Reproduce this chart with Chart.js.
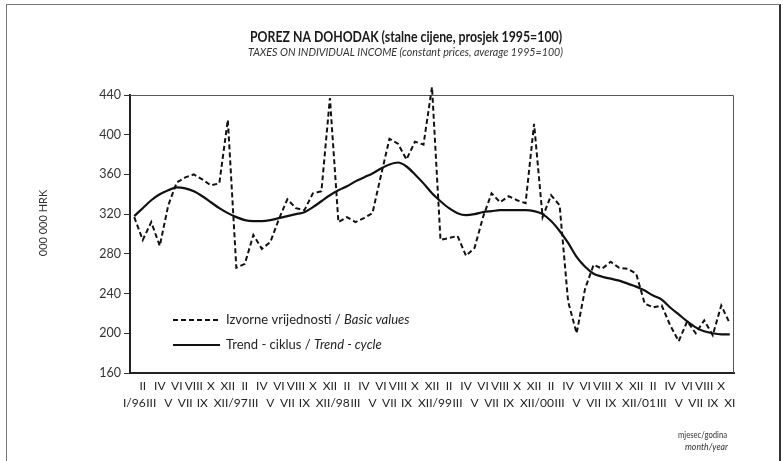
<!DOCTYPE html>
<html><head><meta charset="utf-8">
<script src="https://cdn.jsdelivr.net/npm/chart.js@4/dist/chart.umd.min.js"></script>
<style>
html,body{margin:0;padding:0;background:#fff;}
#wrap{position:relative;width:783px;height:461px;overflow:hidden;background:#fff;}
#frame{position:absolute;left:6px;top:4px;width:775px;height:480px;border:1px solid #777;border-right:2px solid #333;box-sizing:border-box;pointer-events:none;}
canvas{position:absolute;left:0;top:0;}
</style></head><body>
<div id="wrap"><canvas id="c" width="783" height="461"></canvas><div id="frame"></div></div>
<script>
const categories = [
 'I/96','II','III','IV','V','VI','VII','VIII','IX','X','XI','XII',
 'I/97','II','III','IV','V','VI','VII','VIII','IX','X','XI','XII',
 'I/98','II','III','IV','V','VI','VII','VIII','IX','X','XI','XII',
 'I/99','II','III','IV','V','VI','VII','VIII','IX','X','XI','XII',
 'I/00','II','III','IV','V','VI','VII','VIII','IX','X','XI','XII',
 'I/01','II','III','IV','V','VI','VII','VIII','IX','X','XI'
];
const basicValues = [
 317,294,312,288,329,352,357,360,355,349,351,415,
 266,270,299,285,292,315,335,326,324,341,343,437,
 312,317,312,316,321,359,396,391,375,393,390,448,
 294,296,298,278,286,317,341,332,338,334,331,411,
 317,339,329,232,200,245,269,265,272,266,265,260,
 230,226,228,208,192,212,200,213,198,228,210
];
const trendCycle = [
 318,326,334,340,344,347,346,343,338,332,326,321,
 317,314,313,313,314,316,318,320,322,327,333,339,
 344,348,353,357,361,366,370,372,368,360,351,341,
 333,326,321,319,320,322,323,324,324,324,324,323,
 320,313,303,291,277,267,260,257,255,253,250,247,
 243,238,234,226,219,212,206,202,200,199,199
];
const yTicks = [160,200,240,280,320,360,400,440];
const seriesNames = [['Izvorne vrijednosti / ','Basic values'],['Trend - ciklus / ','Trend - cycle']];
const titleText = 'POREZ NA DOHODAK (stalne cijene, prosjek 1995=100)';
const subtitleText = 'TAXES ON INDIVIDUAL INCOME (constant prices, average 1995=100)';
const yTitle = '000 000 HRK';
const xTitle = ['mjesec/godina','month/year'];

const FONT = 'Lato, "Open Sans", sans-serif';

function drawMixed(ctx, x, y, parts){
  parts.forEach(([t,f])=>{ ctx.font=f; ctx.fillText(t,x,y); x+=ctx.measureText(t).width; });
}
function drawFit(ctx, text, x, y, font, width, align){
  ctx.save();
  ctx.font=font;
  const w=ctx.measureText(text).width;
  const sx=width/w;
  ctx.translate(x,y); ctx.scale(sx,1);
  ctx.textAlign=align; ctx.fillText(text,0,0);
  ctx.restore();
}

const deco = {
  id:'deco',
  beforeDraw(chart){
    const ctx=chart.ctx; ctx.save(); ctx.fillStyle='#fff'; ctx.fillRect(0,0,chart.width,chart.height); ctx.restore();
  },
  beforeDatasetsDraw(chart){
    const {ctx, chartArea:a} = chart;
    ctx.save();
    ctx.strokeStyle='#555'; ctx.lineWidth=1;
    ctx.beginPath();
    ctx.moveTo(a.left, a.top+0.5); ctx.lineTo(a.right-0.5, a.top+0.5); ctx.lineTo(a.right-0.5, a.bottom);
    ctx.stroke();
    ctx.restore();
  },
  afterDraw(chart){
    const {ctx} = chart;
    ctx.save();
    ctx.textBaseline='middle';
    ctx.fillStyle='#1a1a1a';
    drawFit(ctx, titleText, 406, 37, 'bold 14.5px '+FONT, 312, 'center');
    ctx.fillStyle='#333';
    drawFit(ctx, subtitleText, 405.5, 52, 'italic 11.5px '+FONT, 315, 'center');
    // y title
    ctx.save(); ctx.translate(43, 223); ctx.rotate(-Math.PI/2);
    ctx.textAlign='center';
    ctx.fillStyle='#333'; ctx.font='11px '+FONT; ctx.fillText(yTitle,0,0); ctx.restore();
    // x title
    ctx.fillStyle='#333';
    drawFit(ctx, xTitle[0], 727, 435, '10px '+FONT, 49, 'right');
    drawFit(ctx, xTitle[1], 728, 447, 'italic 9px '+FONT, 43, 'right');
    // legend
    ctx.textAlign='left';
    const rows=[320,345];
    chart.data.datasets.forEach((ds,i)=>{
      const y=rows[i];
      ctx.save();
      ctx.strokeStyle=ds.borderColor; ctx.lineWidth=ds.borderWidth;
      ctx.setLineDash(ds.borderDash||[]);
      ctx.beginPath(); ctx.moveTo(173,y); ctx.lineTo(220,y); ctx.stroke();
      ctx.restore();
      ctx.fillStyle='#222';
      drawMixed(ctx, 226, y, [[seriesNames[i][0], '13px '+FONT],[seriesNames[i][1], 'italic 13px '+FONT]]);
    });
    ctx.restore();
  }
};

new Chart(document.getElementById('c'), {
  type:'line',
  data:{
    labels: categories,
    datasets:[
      {label: seriesNames[0].join(''), data: basicValues, borderColor:'#111', borderWidth:2, borderDash:[5,3],
       pointRadius:0, tension:0, clip:false, borderJoinStyle:'miter'},
      {label: seriesNames[1].join(''), data: trendCycle, borderColor:'#111', borderWidth:2.2,
       pointRadius:0, tension:0.4, cubicInterpolationMode:'monotone'}
    ]
  },
  options:{
    responsive:false, animation:false, devicePixelRatio:1,
    layout:{padding:{left:0,right:49,top:95,bottom:38}},
    plugins:{legend:{display:false}, title:{display:false}, tooltip:{enabled:false}},
    scales:{
      x:{
        type:'category', offset:true,
        grid:{display:false, drawTicks:false},
        border:{display:true, color:'#222', width:2},
        afterFit(s){ s.height=50; },
        ticks:{autoSkip:false, maxRotation:0, minRotation:0, padding:5, color:'#222',
          font:{family:FONT, size:12, lineHeight:1.38},
          callback(v, idx){ const l=categories[idx]; return idx%2===0 ? ['', l] : [l, '']; }
        }
      },
      y:{
        min:160, max:440,
        afterBuildTicks(s){ s.ticks = yTicks.map(v=>({value:v})); },
        afterFit(s){ s.width=130; },
        grid:{drawOnChartArea:false, drawTicks:true, tickLength:6, color:'#333', lineWidth:1},
        border:{display:true, color:'#222', width:2},
        ticks:{padding:3, color:'#333', font:{family:FONT, size:12.5}}
      }
    }
  },
  plugins:[deco]
});
</script>
</body></html>
